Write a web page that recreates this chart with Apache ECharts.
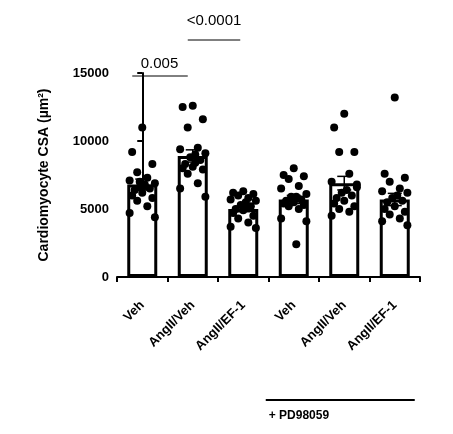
<!DOCTYPE html><html><head><meta charset="utf-8">
<script src="https://cdn.jsdelivr.net/npm/echarts@6/dist/echarts.min.js"></script>
<style>html,body{margin:0;background:#fff}#c{width:453px;height:434px}</style></head><body><div id="c"></div>
<script>
const categories=['Veh','AngII/Veh','AngII/EF-1','Veh','AngII/Veh','AngII/EF-1'];
const means=[6800,8900,5000,5700,6900,5700];
const sems=[400,450,200,300,500,450];
const pts0=[11000,9200,8300,7700,7300,7100,6900,6700,6600,6500,6400,6200,6000,5800,5600,5200,4700,4400,6800,7000];
const pts1=[12600,12500,11600,11000,9500,9400,9100,9000,8800,8600,8300,8100,8000,7900,7600,6900,6500,5900,8400];
const pts2=[6300,6200,6100,6000,5800,5700,5600,5500,5300,5200,5000,4900,4700,4500,4300,4000,3700,3600,5100];
const pts3=[8000,7500,7400,7200,6700,6500,6100,5900,5800,5700,5600,5500,5400,5300,5200,5000,4300,4100,2400,5900];
const pts4=[12000,11000,9200,9200,7600,7000,6800,6400,6200,6000,5800,5600,5400,5200,5000,4800,4500,6600];
const pts5=[13200,7600,7300,7000,6500,6300,6200,6000,5800,5600,5500,5200,5000,4800,4600,4300,4100,3800];
const points=[pts0,pts1,pts2,pts3,pts4,pts5];
const jitter=[0,-0.2,0.2,-0.1,0.1,-0.25,0.25,0.05,-0.05,0.15,-0.15];
const scatter=[];
points.forEach((arr,i)=>arr.forEach((v,j)=>scatter.push([i+jitter[j%jitter.length],v])));
const chart=echarts.init(document.getElementById('c'));
const F='Liberation Sans, Arial, sans-serif';
chart.setOption({animation:false,
 grid:{left:117,right:33,top:73,bottom:157},
 xAxis:[{type:'category',data:categories,offset:18,axisLine:{lineStyle:{color:'#000',width:2}},axisTick:{show:true,length:5,lineStyle:{color:'#000',width:2}},
   axisLabel:{rotate:45,color:'#000',fontWeight:'bold',fontSize:13,fontFamily:F,margin:8}},
  {type:'value',min:-0.5,max:5.5,show:false}],
 yAxis:{type:'value',min:0,max:15000,interval:5000,name:'Cardiomyocyte CSA (µm²)',nameLocation:'middle',nameGap:66,
   nameTextStyle:{fontWeight:'bold',fontSize:14,fontFamily:F,color:'#000'},
   axisLine:{show:true,lineStyle:{color:'#000',width:2}},axisTick:{show:true,length:5,lineStyle:{color:'#000',width:2}},
   splitLine:{show:false},axisLabel:{color:'#000',fontWeight:'bold',fontSize:13,fontFamily:F,formatter:v=>String(v)}},
 series:[
  {type:'bar',data:means,barWidth:30,itemStyle:{color:'#fff',borderColor:'#000',borderWidth:3}},
  {type:'custom',xAxisIndex:1,data:means.map((m,i)=>[i,m,sems[i]]),z:5,renderItem:(p,api)=>{
     const x=api.coord([api.value(0),api.value(1)])[0];
     const hi=api.coord([api.value(0),api.value(1)+api.value(2)])[1];
     const lo=api.coord([api.value(0),api.value(1)-api.value(2)])[1];
     const s={stroke:'#000',lineWidth:1.5};
     return {type:'group',children:[
      {type:'line',shape:{x1:x,y1:hi,x2:x,y2:lo},style:s},
      {type:'line',shape:{x1:x-7,y1:hi,x2:x+7,y2:hi},style:s},
      {type:'line',shape:{x1:x-7,y1:lo,x2:x+7,y2:lo},style:s}]};}},
  {type:'scatter',xAxisIndex:1,data:scatter,symbolSize:8,itemStyle:{color:'#000',opacity:1},z:10}
 ]});
const xs=[0,1,2,3,4,5].map(i=>chart.convertToPixel({xAxisIndex:1},i));
const ts={fill:'#000',font:'15px '+F,textAlign:'center'};
chart.setOption({graphic:[
 {type:'line',shape:{x1:xs[0]-10,y1:76,x2:xs[1]-5,y2:76},style:{stroke:'#000',lineWidth:1}},
 {type:'text',x:(xs[0]+xs[1])/2-8,y:56,style:Object.assign({text:'0.005'},ts)},
 {type:'line',shape:{x1:xs[1]-5,y1:40,x2:xs[2]-3,y2:40},style:{stroke:'#000',lineWidth:1}},
 {type:'text',x:(xs[1]+xs[2])/2-4,y:13,style:Object.assign({text:'<0.0001'},ts)},
 {type:'line',shape:{x1:xs[3]-28,y1:400,x2:xs[5]+20,y2:400},style:{stroke:'#000',lineWidth:2}},
 {type:'text',x:xs[3]-25,y:410,style:{text:'+ PD98059',fill:'#000',font:'bold 12px '+F}}
]});
</script></body></html>
